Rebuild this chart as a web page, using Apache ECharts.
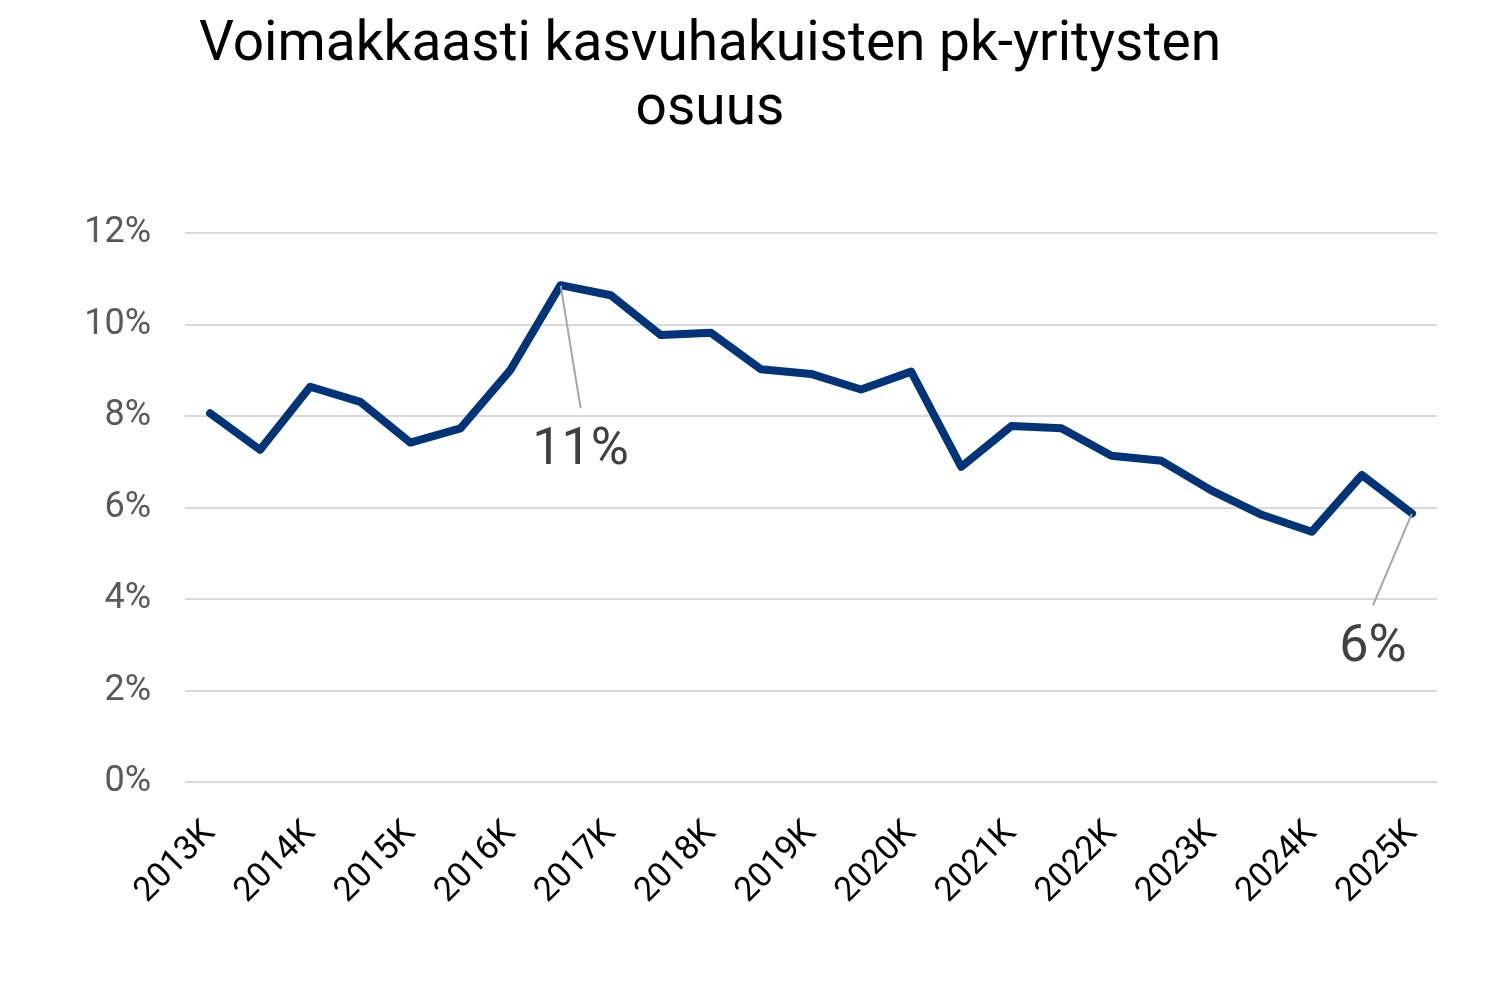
<!DOCTYPE html>
<html>
<head>
<meta charset="utf-8">
<script src="https://cdn.jsdelivr.net/npm/echarts@6/dist/echarts.min.js"></script>
<style>html,body{margin:0;padding:0;background:#fff;}#c{width:1507px;height:988px;}</style>
</head>
<body>
<div id="c"></div>
<script>
const titleText = "Voimakkaasti kasvuhakuisten pk-yritysten\nosuus";
const categories = [
  "2013K","2013S","2014K","2014S","2015K","2015S","2016K","2016S","2017K","2017S",
  "2018K","2018S","2019K","2019S","2020K","2020S","2021K","2021S","2022K","2022S",
  "2023K","2023S","2024K","2024S","2025K"
];
const shares = [
  8.06, 7.26, 8.64, 8.31, 7.42, 7.73, 9.01, 10.86, 10.64, 9.77,
  9.82, 9.02, 8.92, 8.58, 8.97, 6.89, 7.78, 7.73, 7.13, 7.02,
  6.37, 5.84, 5.47, 6.71, 5.87
];
const labelledPoints = [7, 24];
const yTicks = [0, 2, 4, 6, 8, 10, 12];

const chart = echarts.init(document.getElementById('c'), null, {renderer: 'canvas'});
const FONT = 'Roboto';
chart.setOption({
  animation: false,
  backgroundColor: '#ffffff',
  title: {
    text: titleText,
    left: 705,
    top: 9,
    textAlign: 'center',
    textStyle: {fontFamily: FONT, fontSize: 55, fontWeight: 'normal', color: '#000000', lineHeight: 64}
  },
  grid: {left: 185, right: 70, top: 233, bottom: 206, containLabel: false},
  xAxis: {
    type: 'category',
    data: categories,
    boundaryGap: true,
    axisLine: {show: false},
    axisTick: {show: false},
    splitLine: {show: false},
    axisLabel: {
      interval: 1,
      rotate: 45,
      margin: 46,
      fontFamily: FONT,
      fontSize: 34,
      color: '#000000'
    }
  },
  yAxis: {
    type: 'value',
    min: yTicks[0],
    max: yTicks[yTicks.length - 1],
    interval: 2,
    axisLine: {show: false},
    axisTick: {show: false},
    splitLine: {lineStyle: {color: '#d9d9d9', width: 2}},
    axisLabel: {
      margin: 34,
      fontFamily: FONT,
      fontSize: 36,
      color: '#595959',
      formatter: v => v + '%'
    }
  },
  series: [{
    type: 'line',
    data: shares.map((v, i) => ({
      value: v,
      label: {show: labelledPoints.includes(i)}
    })),
    showSymbol: true,
    symbol: 'circle',
    symbolSize: 1,
    lineStyle: {color: '#003479', width: 8, cap: 'round', join: 'round'},
    itemStyle: {color: '#003479'},
    label: {
      show: false,
      position: 'inside',
      fontFamily: FONT,
      fontSize: 52,
      lineHeight: 86,
      color: '#404040',
      formatter: p => Math.round(p.value) + '%'
    },
    labelLine: {show: true, lineStyle: {color: '#a6a6a6', width: 2}},
    labelLayout: function (p) {
      if (p.dataIndex === 7) return {dx: 20, dy: 166};
      if (p.dataIndex === 24) return {dx: -39, dy: 135};
      return {};
    }
  }]
});
</script>
</body>
</html>
